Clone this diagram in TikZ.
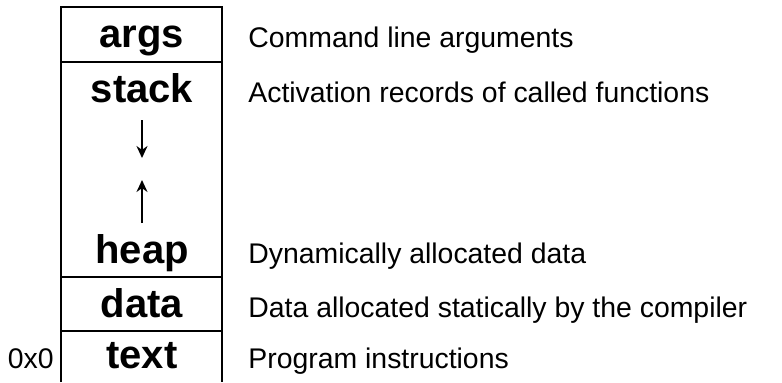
\documentclass[tikz,border=0pt]{standalone}
\usepackage{fontspec}
\setmainfont{Liberation Sans}
\usetikzlibrary{arrows.meta, positioning}
\tikzset{
  seg-label/.style={font=\bfseries\fontsize{20}{24}\selectfont, anchor=base, inner sep=0pt},
  seg-note/.style={font=\fontsize{14.2}{17}\selectfont, anchor=base west, inner sep=0pt},
  seg-line/.style={line width=1pt},
  grow-arrow/.style={-{Stealth[length=6pt, width=5.5pt]}, line width=1pt}
}

\begin{document}
\begin{tikzpicture}[x=0.5pt, y=-0.5pt]
    \useasboundingbox (0,0) rectangle (782,382);
    % --- Memory column ---
    \draw[seg-line] (61,382) -- (61,7) -- (222,7) -- (222,382);
    \draw[seg-line] (61,62) -- (222,62);
    \draw[seg-line] (61,277) -- (222,277);
    \draw[seg-line] (61,331) -- (222,331);
    % Segment names
    \node[seg-label] (args) at (142,47) {args};
    \node[seg-label] (stack) at (142,102) {stack};
    \node[seg-label] (heap) at (142,263) {heap};
    \node[seg-label] (data) at (142,317) {data};
    \node[seg-label] (text) at (142,368) {text};
    \node[seg-note, anchor=base east] (addr) at (54,368) {0x0};
    % Growth of stack and heap
    \coordinate (stack-from) at (142,120);
    \coordinate (stack-to) at (142,158);
    \coordinate (heap-from) at (142,223);
    \coordinate (heap-to) at (142,180);
    \draw[grow-arrow] (stack-from) -- (stack-to);
    \draw[grow-arrow] (heap-from) -- (heap-to);
    % --- Descriptions ---
    \node[seg-note] (args-note) at (248,47) {Command line arguments};
    \node[seg-note] (stack-note) at (248,102) {Activation records of called functions};
    \node[seg-note] (heap-note) at (248,263) {Dynamically allocated data};
    \node[seg-note] (data-note) at (248,317) {Data allocated statically by the compiler};
    \node[seg-note] (text-note) at (248,368) {Program instructions};
\end{tikzpicture}
\end{document}
